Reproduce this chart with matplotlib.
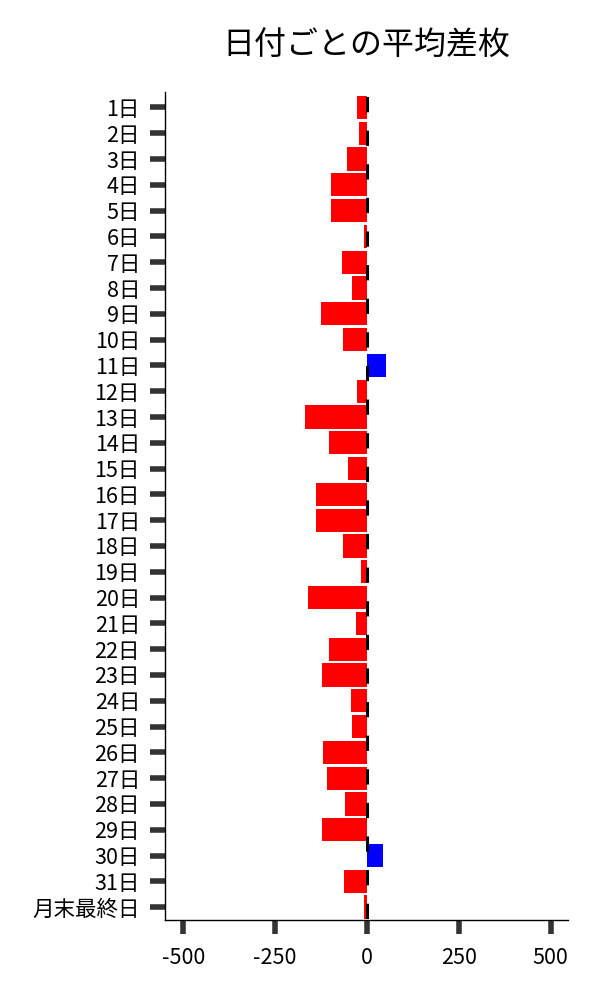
import matplotlib
matplotlib.use("Agg")
import matplotlib.pyplot as plt

plt.rcParams['font.family'] = ['Noto Sans CJK JP', 'DejaVu Sans']

categories = [f"{i}日" for i in range(1, 32)] + ["月末最終日"]
values = [-27, -23, -54, -98, -98, -8, -68, -41, -125, -65,
          53, -27, -168, -103, -52, -139, -139, -65, -16, -160,
          -30, -103, -122, -43, -41, -119, -109, -60, -122, 43,
          -63, -8]
xticks = [-500, -250, 0, 250, 500]
xticklabels = ["-500", "-250", "0", "250", "500"]

colors = ["#0000FF" if v > 0 else "#FF0000" for v in values]

fig = plt.figure(figsize=(6, 10), dpi=100)
ax = fig.add_axes([0.275, 0.08, 0.672, 0.828])

y = list(range(len(categories)))
ax.barh(y, values, height=0.9, color=colors, zorder=2)
ax.axvline(0, color="black", lw=2.2, zorder=3, linestyle=(10.5, (5.0, 6.0)))

ax.set_yticks(y)
ax.set_yticklabels(categories, fontsize=15.5)
ax.set_ylim(len(categories) - 0.5, -0.6)
ax.set_xlim(-550, 548)
ax.set_xticks(xticks)
ax.set_xticklabels(xticklabels, fontsize=15.5)

ax.tick_params(axis="y", length=11, width=4, color="#333333", pad=7)
ax.tick_params(axis="x", length=10, width=4, color="#333333", pad=9.5)

for s in ["top", "right"]:
    ax.spines[s].set_visible(False)
for s in ["left", "bottom"]:
    ax.spines[s].set_linewidth(1.0)
    ax.spines[s].set_color("black")

ax.set_title("日付ごとの平均差枚", fontsize=23, pad=27)

fig.savefig("out.png", dpi=100)
